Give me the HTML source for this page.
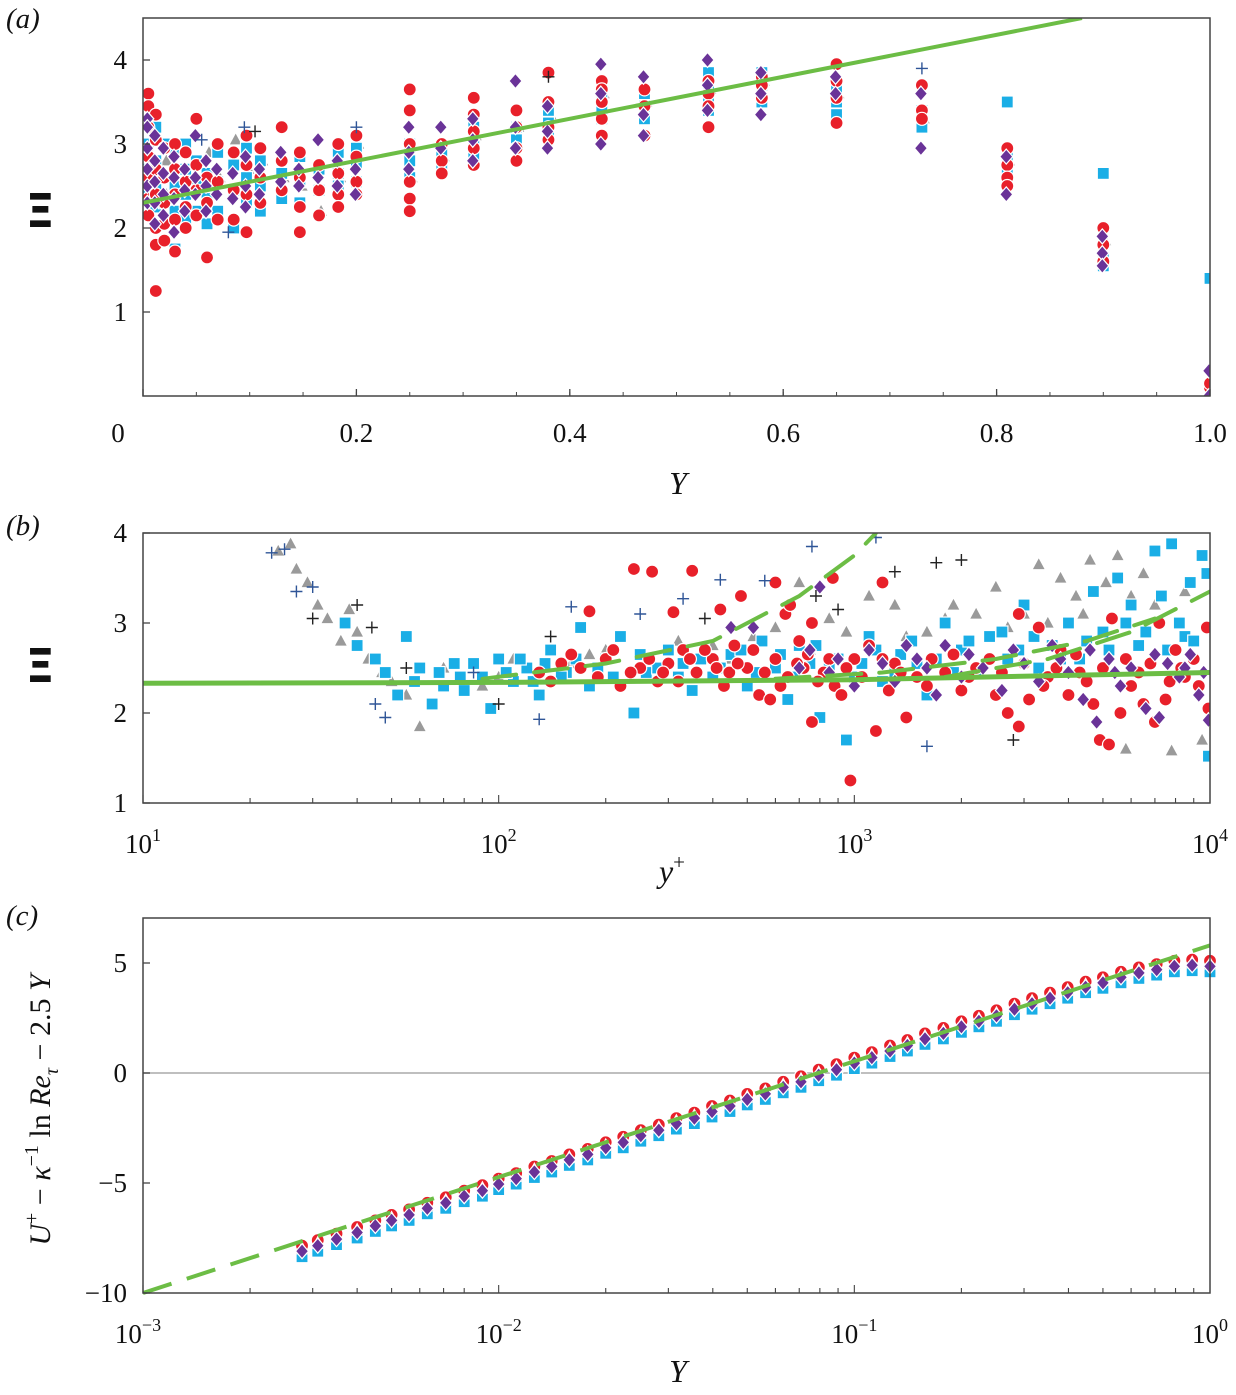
<!DOCTYPE html>
<html><head><meta charset="utf-8">
<style>
html,body{margin:0;padding:0;background:#fff;}
svg{display:block;font-family:"Liberation Serif",serif;}
</style></head>
<body>
<svg id="fig" width="1236" height="1395" viewBox="0 0 1236 1395" xmlns="http://www.w3.org/2000/svg">
<g id="pa"></g>
<g id="pb"></g>
<g id="pc"></g>
</svg>
<script>
// ---------- Panel (a) data ----------
const aCols = [0.005,0.012,0.02,0.03,0.04,0.05,0.06,0.07,0.085,0.097,0.11,0.13,0.147,0.165,0.183,0.2,0.25,0.28,0.31,0.35,0.38,0.43,0.47,0.53,0.58,0.65,0.73,0.81,0.90,1.0];
const aRed = [[3.6,3.45,3.2,2.85,2.6,2.35,2.15],[3.35,3.05,2.7,2.4,2.0,1.8,1.25],[2.95,2.6,2.3,2.05,1.85],[3.0,2.7,2.4,2.1,1.72],[2.9,2.55,2.25,2.0],[3.3,2.75,2.45,2.15],[2.6,2.3,1.65],[3.0,2.55,2.1],[2.9,2.45,2.1],[3.1,2.75,2.4,1.95],[2.95,2.6,2.3],[3.2,2.8,2.45],[2.9,2.6,2.25,1.95],[2.75,2.45,2.15],[3.0,2.65,2.4,2.25],[3.1,2.85,2.55,2.4],[3.65,3.4,3.0,2.55,2.35,2.2],[3.0,2.8,2.65],[3.55,3.35,3.15,2.95,2.75],[3.4,3.2,2.95,2.8],[3.85,3.5,3.2,3.05],[3.75,3.65,3.5,3.3,3.1],[3.65,3.45,3.1],[3.75,3.6,3.45,3.2],[3.8,3.7,3.55],[3.95,3.75,3.55,3.25],[3.7,3.4,3.3],[2.95,2.75,2.6,2.5],[2.0,1.8,1.6],[0.1,0.15]];
const aBlue = [[3.0,2.7,2.4,2.15],[3.2,2.8,2.5,2.25],[3.0,2.6,2.3],[2.9,2.5,2.2,1.75],[3.0,2.7,2.4,2.1],[2.8,2.5,2.2],[2.65,2.35,2.05],[2.9,2.55,2.2],[2.75,2.45,2.0],[2.95,2.6,2.3],[2.8,2.5,2.2],[2.65,2.35],[2.85,2.55,2.3],[2.7,2.45],[2.9,2.65,2.5],[2.95,2.75,2.55],[3.0,2.8,2.6],[2.9,2.75],[3.2,3.0,2.85],[3.2,3.05],[3.4,3.25,3.15],[3.55,3.4,3.3],[3.6,3.45,3.3],[3.85,3.65,3.55,3.4],[3.85,3.7,3.5],[3.65,3.5,3.35],[3.4,3.3,3.2],[3.5,2.85,2.65],[2.65,1.65,1.55],[1.4]];
const aPurple = [[3.3,3.2,2.95,2.7,2.5,2.3],[3.1,2.8,2.55,2.3,2.05],[2.95,2.65,2.4,2.15],[2.85,2.6,2.35,1.95],[2.7,2.45,2.2],[3.1,2.6,2.4],[2.8,2.5,2.2],[2.7,2.4],[2.65,2.35],[2.85,2.5,2.25],[2.7,2.4],[2.9,2.55],[2.7,2.5],[3.05,2.6],[2.8,2.5],[2.7,2.4],[3.2,2.9,2.7],[3.2,2.95],[3.3,3.05,2.8],[3.75,3.2,2.95],[3.45,3.15,2.95],[3.95,3.6,3.0],[3.8,3.35,3.1],[4.0,3.7,3.4],[3.85,3.6,3.35],[3.8,3.6],[3.6,2.95],[2.85,2.4],[1.9,1.7,1.55],[0.3,0.0]];
const aGray = [[2.9,2.5],[3.1,2.6],[2.8,2.4],[2.7],[2.6],[2.5],[2.9],[2.6],[3.05],[2.7],[2.8],[2.6],[2.5],[2.2],[2.6],[3.0],[3.0,2.6],[2.85],[3.1],[3.2],[3.35],[3.6],[3.5],[3.65],[3.75],[3.6],[3.3],[2.8],[1.85],[0.2]];
const aPlusNavy = [[0.095,3.2],[0.055,3.05],[0.08,1.95],[0.2,3.2],[0.73,3.9]];
const aPlusBlack = [[0.105,3.15],[0.38,3.8]];
const aLine = [[0,2.3],[0.88,4.5]];
const aXTicks = [0,0.2,0.4,0.6,0.8,1.0];
const aXLabels = ["0","0.2","0.4","0.6","0.8","1.0"];
const aYTicks = [1,2,3,4];

// ---------- Panel (b) data ----------
const bRed = [[240,3.6],[270,3.57],[350,3.58],[180,3.13],[310,3.12],[420,3.15],[480,3.3],[600,3.45],[640,3.1],[660,3.2],[760,3.0],[870,3.5],[1200,3.45],[975,1.25],[130,2.45],[150,2.55],[170,2.5],[200,2.6],[220,2.3],[250,2.5],[280,2.35],[300,2.55],[330,2.7],[360,2.45],[400,2.6],[430,2.3],[460,2.75],[500,2.5],[540,2.2],[580,2.15],[600,2.6],[650,2.4],[700,2.8],[720,2.5],[760,1.9],[820,2.45],[880,2.3],[920,2.2],[1000,2.6],[1050,2.4],[1150,1.8],[1250,2.25],[1300,2.55],[1400,1.95],[1500,2.4],[1650,2.6],[1800,2.45],[2000,2.25],[2200,2.5],[2500,2.2],[2700,2.0],[2900,1.85],[3100,2.15],[3500,2.4],[3800,2.7],[4000,2.2],[4300,2.45],[4700,2.1],[4900,1.7],[5200,1.65],[5600,2.0],[6000,2.3],[6500,2.1],[7000,1.9],[7500,2.15],[8000,2.7],[8500,2.4],[9000,2.6],[9800,2.95],[9900,2.05],[3300,2.95],[5300,3.05],[7200,3.0],[2900,3.1],
[140,2.35],[160,2.65],[190,2.4],[210,2.7],[235,2.45],[265,2.6],[290,2.45],[320,2.35],[345,2.6],[380,2.7],[410,2.5],[445,2.45],[470,2.55],[520,2.7],[560,2.45],[620,2.3],[690,2.55],[740,2.65],[790,2.35],[850,2.6],[950,2.5],[1100,2.75],[1200,2.6],[1350,2.45],[1600,2.3],[1900,2.65],[2100,2.4],[2400,2.6],[2600,2.45],[3000,2.55],[3400,2.3],[3700,2.5],[4200,2.65],[4500,2.35],[5000,2.5],[5800,2.6],[6300,2.45],[6800,2.55],[7700,2.35],[8300,2.5],[9300,2.3]];
const bBlue = [[37,3.0],[40,2.75],[45,2.6],[48,2.45],[52,2.2],[55,2.85],[60,2.5],[65,2.1],[70,2.3],[75,2.55],[80,2.25],[90,2.4],[95,2.05],[100,2.6],[110,2.35],[120,2.5],[130,2.2],[140,2.7],[155,2.45],[170,2.95],[180,2.3],[200,2.6],[220,2.85],[240,2.0],[260,2.45],[300,2.7],[330,2.55],[350,2.25],[400,2.4],[450,2.65],[500,2.3],[550,2.8],[600,2.5],[650,2.15],[700,2.75],[750,2.55],[800,1.95],[900,2.6],[950,1.7],[1000,2.4],[1100,2.85],[1200,2.35],[1350,2.65],[1500,2.55],[1600,2.2],[1800,3.0],[2000,2.7],[2200,2.45],[2400,2.85],[2700,2.6],[3000,3.2],[3300,2.5],[3600,2.75],[4000,3.0],[4300,2.6],[4700,3.35],[5000,2.9],[5500,3.5],[6000,3.2],[6300,2.75],[7000,3.8],[7300,3.3],[7800,3.88],[8200,3.0],[8800,3.45],[9500,3.75],[9800,3.55],[9900,1.52],[8500,2.85],
[58,2.35],[68,2.45],[78,2.4],[85,2.55],[105,2.45],[115,2.6],[125,2.35],[135,2.55],[150,2.4],[165,2.6],[190,2.5],[210,2.4],[250,2.65],[280,2.5],[320,2.4],[370,2.6],[420,2.5],[480,2.7],[530,2.45],[620,2.65],[680,2.4],[780,2.75],[850,2.5],[1050,2.55],[1150,2.7],[1300,2.45],[1450,2.8],[1700,2.6],[1900,2.45],[2100,2.8],[2600,2.9],[2900,2.7],[3200,2.85],[3800,2.6],[4500,2.8],[5200,2.7],[5800,3.0],[6600,2.9],[7600,2.7],[9000,2.8]];
const bGray = [[24,3.8],[26,3.88],[27,3.6],[29,3.45],[31,3.2],[33,3.05],[36,2.8],[38,3.15],[40,2.9],[43,2.6],[47,2.45],[50,2.35],[55,2.2],[60,1.85],[70,2.5],[90,2.3],[110,2.6],[130,2.45],[160,2.55],[200,2.7],[250,2.65],[320,2.8],[450,2.6],[600,2.95],[700,3.45],[850,3.05],[1100,3.3],[1300,3.2],[1600,2.9],[1900,3.2],[2200,3.1],[2500,3.4],[3000,3.1],[3300,3.65],[3800,3.5],[4200,3.3],[4600,3.7],[5100,3.45],[5500,3.75],[6000,3.3],[6500,3.55],[5800,1.6],[7800,1.58],[9500,1.7],
[100,2.4],[180,2.65],[280,2.5],[400,2.75],[520,2.85],[750,2.7],[950,2.9],[1400,2.85],[1800,3.05],[2700,2.95],[3500,3.0],[4400,3.1],[7000,3.2],[8500,3.35]];
const bPurple = [[450,2.95],[520,2.95],[700,2.5],[800,3.4],[900,2.6],[1000,2.3],[1100,2.7],[1200,2.55],[1300,2.35],[1500,2.6],[1700,2.2],[1800,2.75],[2000,2.4],[2300,2.5],[2600,2.25],[3000,2.55],[3300,2.35],[3600,2.75],[4000,2.45],[4400,2.15],[4800,1.9],[5200,2.6],[5600,2.3],[6000,2.5],[6600,2.05],[7200,1.95],[7600,2.55],[8200,2.4],[8800,2.65],[9300,2.2],[9900,1.92],
[750,2.7],[850,2.45],[1400,2.75],[1600,2.5],[2100,2.65],[2800,2.7],[3800,2.6],[4600,2.7],[5400,2.45],[7000,2.65],[8500,2.5],[9600,2.45]];
const bPlusNavy = [[23,3.78],[25,3.82],[27,3.35],[30,3.4],[45,2.1],[48,1.95],[85,2.45],[130,1.93],[160,3.18],[250,3.1],[330,3.27],[420,3.48],[560,3.47],[760,3.85],[1150,3.95],[1600,1.63]];
const bPlusBlack = [[30,3.05],[40,3.2],[44,2.95],[55,2.5],[100,2.1],[140,2.85],[380,3.05],[780,3.3],[900,3.15],[1300,3.57],[1700,3.67],[2000,3.7],[2800,1.7]];
const bSolidX = [10,100,1000,10000];
const bSolidY = [2.33,2.34,2.37,2.45];
const bDash1X = [90,200,400,700,1000,1150];
const bDash1Y = [2.38,2.55,2.8,3.3,3.75,4.0];
const bDash2X = [600,1200,2500,4500,7000];
const bDash2Y = [2.38,2.45,2.6,2.8,3.05];
const bDash3X = [1800,3500,6000,10000];
const bDash3Y = [2.4,2.6,2.9,3.35];
const bYTicks = [1,2,3,4];

// ---------- Panel (c) data ----------
const cX = [0.0028,0.0031,0.0035,0.004,0.0045,0.005,0.0056,0.0063,0.0071,0.008,0.009,0.01,0.0112,0.0126,0.0141,0.0158,0.0178,0.02,0.0224,0.0251,0.0282,0.0316,0.0355,0.0398,0.0447,0.05,0.0562,0.0631,0.0708,0.0794,0.0891,0.1,0.112,0.126,0.141,0.158,0.178,0.2,0.224,0.251,0.282,0.316,0.355,0.398,0.447,0.5,0.562,0.631,0.708,0.794,0.891,1.0];
const cPurple = [-8.1,-7.85,-7.55,-7.25,-6.95,-6.7,-6.45,-6.15,-5.9,-5.6,-5.35,-5.05,-4.8,-4.5,-4.25,-3.95,-3.7,-3.4,-3.15,-2.85,-2.6,-2.3,-2.05,-1.75,-1.5,-1.2,-0.95,-0.65,-0.4,-0.1,0.15,0.45,0.7,1.0,1.25,1.55,1.8,2.1,2.35,2.6,2.9,3.15,3.4,3.65,3.9,4.1,4.35,4.55,4.7,4.85,4.9,4.85];
const cLineX = [0.001,1.0];
const cLineY = [-10,5.8];
const cYTicks = [-10,-5,0,5];

const NS="http://www.w3.org/2000/svg";
function mk(parent,tag,attrs){const e=document.createElementNS(NS,tag);for(const k in attrs)e.setAttribute(k,attrs[k]);parent.appendChild(e);return e;}
const RED="#e8202a",BLUE="#1aaee6",PUR="#6a3398",GRAY="#9a9a9a",NAVY="#2f5597",GREEN="#6cbd45";

function marker(g,type,x,y){
  let e;
  if(type==='circle'){e=mk(g,'circle',{cx:x,cy:y,r:6.5,fill:RED,stroke:'#fff','stroke-width':1.2});}
  else if(type==='square'){e=mk(g,'rect',{x:x-6,y:y-6,width:12,height:12,fill:BLUE,stroke:'#fff','stroke-width':1.2});}
  else if(type==='diamond'){e=mk(g,'path',{d:`M${x},${y-7.5}L${x+6.5},${y}L${x},${y+7.5}L${x-6.5},${y}Z`,fill:PUR,stroke:'#fff','stroke-width':1.2});}
  else if(type==='tri'){e=mk(g,'path',{d:`M${x},${y-7}L${x+6.5},${y+5}L${x-6.5},${y+5}Z`,fill:GRAY,stroke:'#fff','stroke-width':0.8});}
  else {const c=type==='plusn'?NAVY:'#222';e=mk(g,'path',{d:`M${x-6},${y}H${x+6}M${x},${y-6}V${y+6}`,stroke:c,'stroke-width':1.4,fill:'none'});}
  
  
  return e;
}
function frame(g,x0,y0,x1,y1){
  const r=mk(g,'rect',{x:x0,y:y0,width:x1-x0,height:y1-y0,fill:'none',stroke:'#444','stroke-width':1.5});
  
  
}
function text(g,x,y,s,size,anchor,name,italic){
  const t=mk(g,'text',{x:x,y:y,'font-size':size,'text-anchor':anchor||'middle',fill:'#111'});
  if(italic)t.setAttribute('font-style','italic');
  t.textContent=s;
  
  
  return t;
}
function xiLabel(g,x,y){
  const t=mk(g,'text',{x:x,y:y,'font-size':46,'font-weight':'bold','text-anchor':'middle',fill:'#111','font-family':'"DejaVu Sans",sans-serif'});
  t.textContent='Ξ';
  
  
}

// ===== Panel a =====
(function(){
  const g=document.getElementById('pa');
  const X0=143,X1=1210,Y0=18,Y1=396;
  const sx=v=>X0+(X1-X0)*v, sy=v=>396-84*v;
  const clip=mk(g,'clipPath',{id:'ca'});mk(clip,'rect',{x:X0,y:Y0,width:X1-X0,height:Y1-Y0});
  const d=mk(g,'g',{'clip-path':'url(#ca)'});
  
  
  aCols.forEach((c,i)=>{(aGray[i]||[]).forEach(v=>marker(d,'tri',sx(c)+2,sy(v)));});
  aCols.forEach((c,i)=>{(aBlue[i]||[]).forEach(v=>marker(d,'square',sx(c),sy(v)));});
  aCols.forEach((c,i)=>{(aRed[i]||[]).forEach(v=>marker(d,'circle',sx(c),sy(v)));});
  aCols.forEach((c,i)=>{(aPurple[i]||[]).forEach(v=>marker(d,'diamond',sx(c)-1,sy(v)));});
  aPlusNavy.forEach(p=>marker(d,'plusn',sx(p[0]),sy(p[1])));
  aPlusBlack.forEach(p=>marker(d,'plusb',sx(p[0]),sy(p[1])));
  const ln=mk(d,'line',{x1:sx(aLine[0][0]),y1:sy(aLine[0][1]),x2:sx(aLine[1][0]),y2:sy(aLine[1][1]),stroke:GREEN,'stroke-width':4});
  
  
  frame(g,X0,Y0,X1,Y1);
  aXTicks.forEach((t,i)=>{mk(g,'line',{x1:sx(t),y1:Y1,x2:sx(t),y2:Y1-7,stroke:'#444','stroke-width':1.3});
    text(g,i===0?118:sx(t),442,aXLabels[i],27,'middle','x-tick-label');});
  for(let t=0.05;t<1;t+=0.05){mk(g,'line',{x1:sx(t),y1:Y1,x2:sx(t),y2:Y1-4,stroke:'#444','stroke-width':1});}
  aYTicks.forEach(t=>{mk(g,'line',{x1:X0,y1:sy(t),x2:X0+7,y2:sy(t),stroke:'#444','stroke-width':1.3});
    text(g,127,sy(t)+9,String(t),27,'end','y-tick-label');});
  text(g,678,494,'Y',32,'middle','x-axis-title',true);
  xiLabel(g,40,227);
  text(g,6,28,'(a)',29,'start','panel-label',true);
})();

// ===== Panel b =====
(function(){
  const g=document.getElementById('pb');
  const X0=143,X1=1210,Y0=533,Y1=803;
  const sx=v=>X0+(X1-X0)/3*Math.log10(v/10), sy=v=>803-90*(v-1);
  const clip=mk(g,'clipPath',{id:'cb'});mk(clip,'rect',{x:X0,y:Y0,width:X1-X0,height:Y1-Y0});
  const d=mk(g,'g',{'clip-path':'url(#cb)'});
  
  
  bGray.forEach(p=>marker(d,'tri',sx(p[0]),sy(p[1])));
  bBlue.forEach(p=>marker(d,'square',sx(p[0]),sy(p[1])));
  bRed.forEach(p=>marker(d,'circle',sx(p[0]),sy(p[1])));
  bPurple.forEach(p=>marker(d,'diamond',sx(p[0]),sy(p[1])));
  bPlusNavy.forEach(p=>marker(d,'plusn',sx(p[0]),sy(p[1])));
  bPlusBlack.forEach(p=>marker(d,'plusb',sx(p[0]),sy(p[1])));
  function poly(xs,ys,dash,name,w){
    const pts=xs.map((x,i)=>sx(x)+','+sy(ys[i])).join(' ');
    const p=mk(d,'polyline',{points:pts,fill:'none',stroke:GREEN,'stroke-width':w,'stroke-linecap':'round'});
    if(dash)p.setAttribute('stroke-dasharray',dash);
    
    
  }
  poly(bSolidX,bSolidY,null,'model-solid-line',5);
  poly(bDash1X,bDash1Y,'34 18','model-dashed-line-1',4);
  poly(bDash2X,bDash2Y,'34 18','model-dashed-line-2',4);
  poly(bDash3X,bDash3Y,'34 18','model-dashed-line-3',4);
  frame(g,X0,Y0,X1,Y1);
  for(let dec=1;dec<4;dec++){for(let m=1;m<10;m++){const v=Math.pow(10,dec)*m;const x=sx(v);
    mk(g,'line',{x1:x,y1:Y1,x2:x,y2:Y1-(m===1?8:5),stroke:'#444','stroke-width':1.1});}}
  [1,2,3,4].forEach(e=>{const t=text(g,sx(Math.pow(10,e)),853,'10',27,'middle','x-tick-label');
    const s=mk(t,'tspan',{dy:-12,'font-size':18});s.textContent=String(e);});
  bYTicks.forEach(t=>{mk(g,'line',{x1:X0,y1:sy(t),x2:X0+7,y2:sy(t),stroke:'#444','stroke-width':1.3});
    text(g,127,sy(t)+9,String(t),27,'end','y-tick-label');});
  const xt=text(g,672,882,'y',32,'middle','x-axis-title',true);
  const sp=mk(xt,'tspan',{dy:-13,'font-size':21,'font-style':'normal'});sp.textContent='+';
  xiLabel(g,40,682);
  text(g,6,535,'(b)',29,'start','panel-label',true);
})();

// ===== Panel c =====
(function(){
  const g=document.getElementById('pc');
  const X0=143,X1=1210,Y0=918,Y1=1293;
  const sx=v=>X0+(X1-X0)/3*(Math.log10(v)+3), sy=v=>1073-22*v;
  const zl=mk(g,'line',{x1:X0,y1:sy(0),x2:X1,y2:sy(0),stroke:'#aaa','stroke-width':1.5});
  
  
  const d=mk(g,'g',{});
  
  
  cX.forEach((x,i)=>marker(d,'square',sx(x),sy(cPurple[i]-0.25)));
  cX.forEach((x,i)=>marker(d,'circle',sx(x),sy(cPurple[i]+0.25)));
  cX.forEach((x,i)=>marker(d,'tri',sx(x),sy(cPurple[i]+0.1)));
  cX.forEach((x,i)=>marker(d,'diamond',sx(x),sy(cPurple[i])));
  const ln=mk(d,'line',{x1:sx(cLineX[0]),y1:sy(cLineY[0]),x2:sx(cLineX[1]),y2:sy(cLineY[1]),stroke:GREEN,'stroke-width':4,'stroke-dasharray':'30 16'});
  
  
  frame(g,X0,Y0,X1,Y1);
  for(let dec=-3;dec<0;dec++){for(let m=1;m<10;m++){const v=Math.pow(10,dec)*m;const x=sx(v);
    mk(g,'line',{x1:x,y1:Y1,x2:x,y2:Y1-(m===1?8:5),stroke:'#444','stroke-width':1.1});}}
  [-3,-2,-1,0].forEach(e=>{const t=text(g,sx(Math.pow(10,e))+(e===-3?-5:0),1343,'10',27,'middle','x-tick-label');
    const s=mk(t,'tspan',{dy:-12,'font-size':18});s.textContent=e<0?'−'+(-e):'0';});
  cYTicks.forEach(t=>{mk(g,'line',{x1:X0,y1:sy(t),x2:X0+7,y2:sy(t),stroke:'#444','stroke-width':1.3});
    text(g,127,sy(t)+9,t<0?'−'+(-t):String(t),27,'end','y-tick-label');});
  text(g,678,1382,'Y',32,'middle','x-axis-title',true);
  const yt=mk(g,'text',{transform:'translate(50,1110) rotate(-90)','font-size':30,'text-anchor':'middle',fill:'#111'});
  
  
  yt.innerHTML='<tspan font-style="italic">U</tspan><tspan dy="-12" font-size="20">+</tspan><tspan dy="12"> − </tspan><tspan font-style="italic">κ</tspan><tspan dy="-12" font-size="20">−1</tspan><tspan dy="12"> ln </tspan><tspan font-style="italic">Re</tspan><tspan dy="8" font-size="20" font-style="italic">τ</tspan><tspan dy="-8"> − 2.5 </tspan><tspan font-style="italic">Y</tspan>';
  text(g,6,925,'(c)',29,'start','panel-label',true);
})();
</script>
</body></html>
